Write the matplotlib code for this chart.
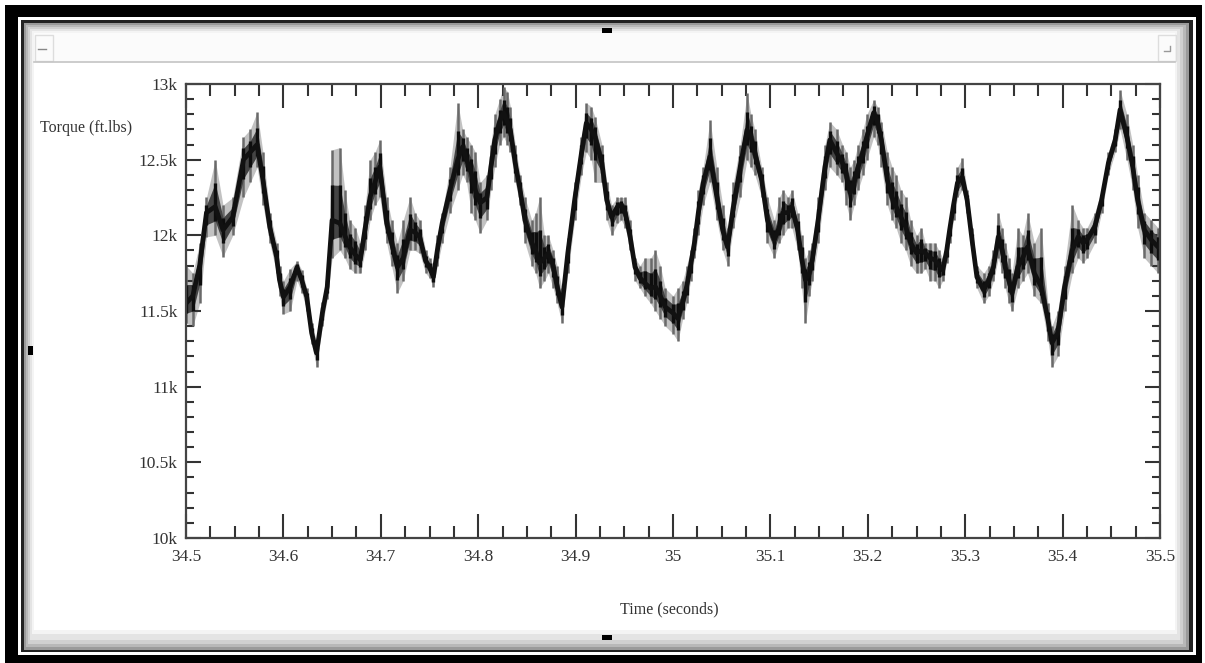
import matplotlib
matplotlib.use("Agg")
import matplotlib.pyplot as plt
from matplotlib.patches import Rectangle
from matplotlib.ticker import MultipleLocator

# ---------------- data ----------------
time_s = [34.500, 34.507, 34.514, 34.521, 34.530, 34.538, 34.548, 34.559, 34.566, 34.573,
          34.579, 34.586, 34.593, 34.596, 34.600, 34.607, 34.614, 34.619, 34.624, 34.629,
          34.634, 34.640, 34.645, 34.650, 34.658, 34.663, 34.668, 34.674, 34.679, 34.684,
          34.689, 34.694, 34.699, 34.706, 34.711, 34.717, 34.723, 34.730, 34.735, 34.740,
          34.746, 34.750, 34.754, 34.758, 34.763, 34.771, 34.779, 34.784, 34.788, 34.793,
          34.797, 34.802, 34.809, 34.813, 34.817, 34.822, 34.826, 34.830, 34.833, 34.838,
          34.843, 34.848, 34.855, 34.859, 34.863, 34.868, 34.872, 34.877, 34.881, 34.886,
          34.892, 34.899, 34.906, 34.911, 34.916, 34.920, 34.927, 34.932, 34.937, 34.943,
          34.947, 34.951, 34.956, 34.961, 34.966, 34.971, 34.977, 34.982, 34.987, 34.992,
          35.000, 35.005, 35.010, 35.014, 35.018, 35.022, 35.026, 35.031, 35.038, 35.045,
          35.051, 35.056, 35.062, 35.069, 35.076, 35.080, 35.084, 35.091, 35.097, 35.104,
          35.109, 35.113, 35.118, 35.122, 35.128, 35.132, 35.136, 35.140, 35.143, 35.149,
          35.156, 35.161, 35.168, 35.174, 35.178, 35.182, 35.186, 35.190, 35.195, 35.199,
          35.206, 35.210, 35.214, 35.220, 35.225, 35.229, 35.234, 35.239, 35.244, 35.250,
          35.255, 35.259, 35.264, 35.269, 35.273, 35.277, 35.281, 35.284, 35.288, 35.292,
          35.297, 35.302, 35.307, 35.312, 35.319, 35.324, 35.329, 35.334, 35.338, 35.341,
          35.345, 35.348, 35.354, 35.359, 35.364, 35.371, 35.378, 35.385, 35.389, 35.395,
          35.402, 35.410, 35.416, 35.421, 35.425, 35.433, 35.440, 35.447, 35.454, 35.459,
          35.466, 35.472, 35.477, 35.484, 35.491, 35.498, 35.500]

torque_mid = [11550, 11600, 11800, 12150, 12190, 12035, 12120, 12500, 12550, 12600,
              12365, 12055, 11857, 11705, 11592, 11660, 11790, 11700, 11592, 11355,
              11222, 11487, 11660, 12100, 12080, 12000, 11923, 11870, 11837, 12050,
              12253, 12350, 12452, 12080, 11950, 11790, 11850, 12035, 12020, 11990,
              11830, 11790, 11725, 11900, 12080, 12300, 12500, 12585, 12500, 12410,
              12300, 12214, 12250, 12450, 12630, 12750, 12810, 12750, 12696, 12478,
              12300, 12100, 11950, 11900, 11817, 11850, 11883, 11800, 11660, 11527,
              11883, 12233, 12544, 12742, 12700, 12650, 12478, 12233, 12120, 12190,
              12200, 12150, 11990, 11790, 11720, 11685, 11650, 11660, 11600, 11527,
              11487, 11450, 11560, 11660, 11800, 11950, 12150, 12346, 12520, 12253,
              12035, 11923, 12190, 12452, 12696, 12650, 12544, 12365, 12100, 11970,
              12050, 12150, 12150, 12190, 12035, 11850, 11705, 11750, 11837, 12100,
              12452, 12630, 12544, 12478, 12400, 12280, 12350, 12452, 12550, 12650,
              12810, 12750, 12630, 12365, 12250, 12190, 12120, 12055, 11950, 11883,
              11900, 11883, 11850, 11837, 11800, 11771, 11900, 12035, 12200, 12346,
              12385, 12233, 11970, 11725, 11640, 11700, 11790, 11990, 11900, 11790,
              11700, 11620, 11790, 11850, 11923, 11750, 11660, 11440, 11290, 11355,
              11660, 11903, 11990, 11950, 11970, 12055, 12233, 12478, 12630, 12830,
              12650, 12452, 12233, 12035, 11970, 11923, 11950]

torque_lo = [11420, 11400, 11550, 11990, 12000, 11860, 12000, 12250, 12350, 12450,
             12200, 11950, 11750, 11600, 11480, 11500, 11700, 11620, 11500, 11280,
             11130, 11400, 11580, 11850, 11900, 11850, 11780, 11750, 11750, 11900,
             12100, 12200, 12250, 11950, 11800, 11620, 11700, 11900, 11900, 11880,
             11750, 11720, 11660, 11800, 11950, 12150, 12300, 12400, 12350, 12150,
             12100, 12015, 12100, 12300, 12450, 12600, 12650, 12600, 12550, 12350,
             12200, 11950, 11800, 11750, 11650, 11700, 11750, 11650, 11550, 11420,
             11750, 12100, 12400, 12550, 12500, 12350, 12350, 12100, 12000, 12080,
             12100, 12050, 11900, 11700, 11650, 11600, 11550, 11500, 11450, 11400,
             11350, 11300, 11450, 11550, 11700, 11850, 12000, 12200, 12350, 12100,
             11900, 11800, 12050, 12250, 12500, 12450, 12400, 12250, 11950, 11850,
             11950, 12000, 12050, 12050, 11900, 11650, 11420, 11600, 11700, 11950,
             12300, 12450, 12400, 12350, 12200, 12100, 12200, 12300, 12400, 12500,
             12650, 12600, 12450, 12200, 12100, 12050, 11950, 11900, 11800, 11750,
             11750, 11780, 11700, 11700, 11650, 11700, 11820, 11950, 12100, 12250,
             12300, 12150, 11900, 11650, 11550, 11600, 11700, 11850, 11750, 11650,
             11550, 11500, 11650, 11700, 11750, 11600, 11550, 11300, 11130, 11200,
             11500, 11750, 11850, 11820, 11850, 11950, 12150, 12400, 12550, 12700,
             12500, 12300, 12050, 11850, 11800, 11750, 11800]

torque_hi = [11800, 11750, 11950, 12250, 12500, 12200, 12250, 12650, 12700, 12815,
             12550, 12150, 11950, 11800, 11700, 11780, 11830, 11770, 11650, 11420,
             11300, 11560, 11750, 12565, 12580, 12300, 12100, 12050, 11950, 12200,
             12500, 12550, 12630, 12250, 12100, 11950, 12100, 12253, 12150, 12100,
             11900, 11850, 11800, 12000, 12150, 12450, 12875, 12700, 12650, 12600,
             12550, 12350, 12400, 12600, 12800, 12900, 12980, 12950, 12850, 12600,
             12400, 12250, 12100, 12150, 12250, 12000, 12000, 11900, 11800, 11650,
             11980, 12350, 12650, 12875, 12850, 12780, 12600, 12350, 12200, 12250,
             12250, 12250, 12100, 11850, 11800, 11850, 11850, 11900, 11800, 11650,
             11600, 11650, 11700, 11800, 11900, 12050, 12300, 12450, 12762, 12450,
             12200, 12050, 12350, 12600, 12940, 12800, 12700, 12450, 12250, 12100,
             12250, 12300, 12250, 12300, 12150, 12000, 11850, 11900, 11950, 12250,
             12600, 12750, 12700, 12600, 12550, 12450, 12500, 12600, 12700, 12800,
             12894, 12850, 12750, 12550, 12450, 12400, 12300, 12250, 12100, 12000,
             12050, 11950, 11950, 11950, 11900, 11850, 11980, 12100, 12280, 12450,
             12510, 12300, 12050, 11800, 11750, 11800, 11900, 12150, 12050, 11950,
             11850, 11750, 12050, 12000, 12150, 11950, 12050, 11550, 11400, 11500,
             11800, 12200, 12100, 12050, 12050, 12150, 12300, 12550, 12700, 12960,
             12800, 12600, 12400, 12150, 12100, 12050, 12100]

x_ticks = [34.5, 34.6, 34.7, 34.8, 34.9, 35.0, 35.1, 35.2, 35.3, 35.4, 35.5]
x_labels = ["34.5", "34.6", "34.7", "34.8", "34.9", "35", "35.1", "35.2", "35.3", "35.4", "35.5"]
y_ticks = [10000, 10500, 11000, 11500, 12000, 12500, 13000]
y_labels = ["10k", "10.5k", "11k", "11.5k", "12k", "12.5k", "13k"]

# ---------------- figure ----------------
W, H = 1205, 663
fig = plt.figure(figsize=(W / 100, H / 100), dpi=100)
fig.patch.set_facecolor("white")
serif = ["Liberation Serif", "DejaVu Serif"]

# window-frame overlay in pixel coordinates
bg = fig.add_axes([0, 0, 1, 1], zorder=0)
bg.set_xlim(0, W)
bg.set_ylim(H, 0)
bg.axis("off")


def box(x0, y0, x1, y1, color, **kw):
    bg.add_patch(Rectangle((x0, y0), x1 - x0, y1 - y0, facecolor=color,
                           edgecolor="none", **kw))


box(5, 5, 1202, 663, "black")
box(18, 17, 1196, 655, "white")
box(21, 20, 1193, 652, "#222222")
box(24, 23, 1189, 650, "#9a9a9a")
box(26, 25, 1186, 647, "#b8b8b8")
box(28, 27, 1183, 644, "#d0d0d0")
box(30, 29, 1180, 640, "#e4e4e4")
box(32, 31, 1177, 634, "#f4f4f4")
box(34, 33, 1175, 630, "white")
# toolbar strip
box(34, 33, 1175, 61, "#fbfbfb")
bg.plot([34, 1175], [62, 62], color="#c4c4c4", lw=1.2)
bg.add_patch(Rectangle((35, 35), 18, 26, facecolor="none", edgecolor="#dddddd", lw=1))
bg.plot([38, 46], [49, 49], color="#888888", lw=1)
bg.add_patch(Rectangle((1158, 35), 18, 26, facecolor="none", edgecolor="#dddddd", lw=1))
bg.plot([1164, 1170, 1170], [51, 51, 46], color="#999999", lw=1)
# small handle marks
box(602, 28, 612, 33, "black")
box(602, 635, 612, 640, "black")
box(28, 346, 33, 355, "black")

# ---------------- plot axes ----------------
L, R, T, B = 186, 1160, 84, 538
ax = fig.add_axes([L / W, 1 - B / H, (R - L) / W, (B - T) / H], zorder=2)
ax.set_facecolor("white")

# outer envelope: grey hatch of vertical bars
ax.fill_between(time_s, torque_lo, torque_hi, color="#c2c2c2", lw=0, zorder=1)
ax.vlines(time_s, torque_lo, torque_hi, color="#6a6a6a", lw=1.8, zorder=2)
# inner dark core (halfway between centre and the envelope)
core_lo = [(m + l) / 2 for m, l in zip(torque_mid, torque_lo)]
core_hi = [(m + h) / 2 for m, h in zip(torque_mid, torque_hi)]
ax.fill_between(time_s, core_lo, core_hi, color="#444444", lw=0, zorder=3)
ax.vlines(time_s, core_lo, core_hi, color="#0d0d0d", lw=2.4, zorder=4)
ax.plot(time_s, torque_mid, color="#111111", lw=3.4, zorder=5)

ax.set_xlim(34.5, 35.5)
ax.set_ylim(10000, 13000)
ax.set_xticks(x_ticks)
ax.set_xticklabels(x_labels)
ax.set_yticks(y_ticks)
ax.set_yticklabels(y_labels)
ax.xaxis.set_minor_locator(MultipleLocator(0.025))
ax.yaxis.set_minor_locator(MultipleLocator(100))

ax.tick_params(axis="x", which="major", direction="in", length=17, width=1.5,
               top=True, bottom=True, color="#333333", pad=8)
ax.tick_params(axis="x", which="minor", direction="in", length=8.5, width=1.5,
               top=True, bottom=True, color="#333333")
ax.tick_params(axis="y", which="major", direction="in", length=11, width=1.5,
               left=True, right=True, color="#333333", pad=6)
ax.tick_params(axis="y", which="minor", direction="in", length=6, width=1.5,
               left=True, right=True, color="#333333")
for lab in ax.get_xticklabels() + ax.get_yticklabels():
    lab.set_family(serif)
    lab.set_fontsize(12.5)
    lab.set_color("#333333")

for s in ax.spines.values():
    s.set_color("#444444")
    s.set_linewidth(1.6)
    s.set_zorder(6)

fig.text(40 / W, 1 - 128 / H, "Torque (ft.lbs)", family=serif, fontsize=11.5,
         color="#333333", ha="left", va="center")
fig.text(669 / W, 1 - 609 / H, "Time (seconds)", family=serif, fontsize=11.5,
         color="#333333", ha="center", va="center")

fig.savefig("out.png", dpi=100, facecolor="white")
